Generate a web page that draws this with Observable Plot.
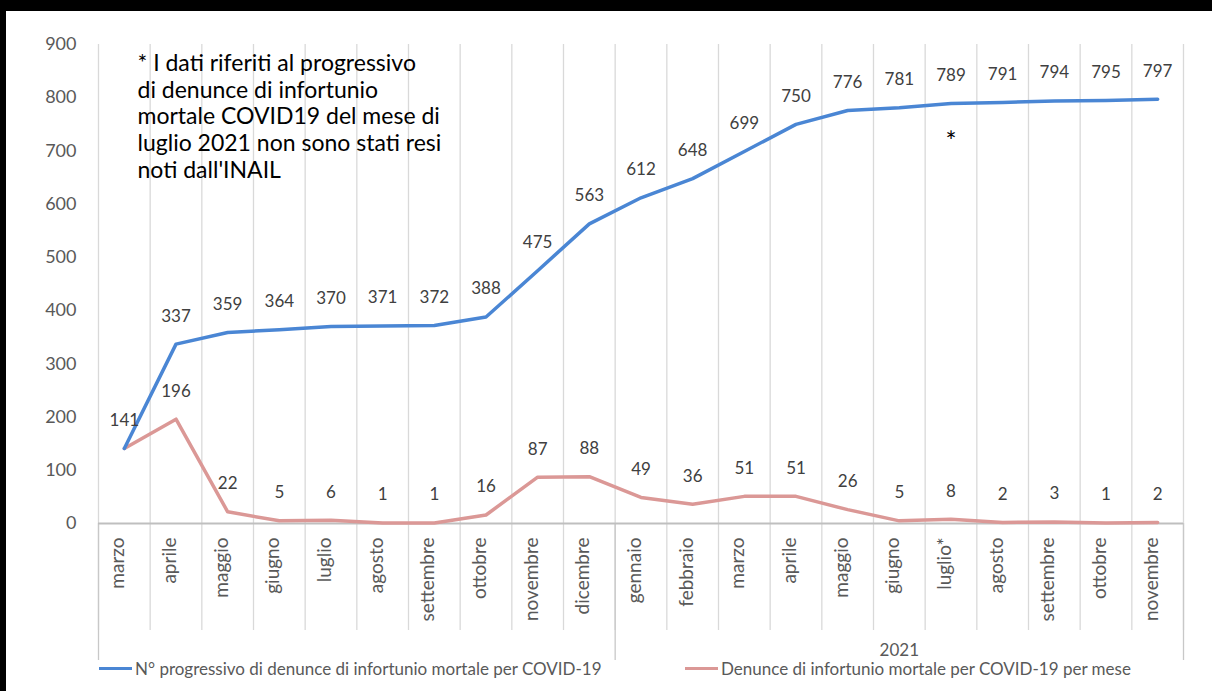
<!DOCTYPE html>
<html>
<head>
<meta charset="utf-8">
<script src="https://cdn.jsdelivr.net/npm/d3@7"></script>
<script src="https://cdn.jsdelivr.net/npm/@observablehq/plot@0.6"></script>
<style>
  html, body { margin: 0; padding: 0; background: white; overflow: hidden; }
  #frame {
    position: relative; width: 1212px; height: 691px; box-sizing: border-box;
    border-top: 11px solid #000; border-left: 6px solid #000;
    background: white; font-family: Lato, "Open Sans", sans-serif; overflow: hidden;
  }
  #chart { position: absolute; left: 1px; top: 0; }
  .leg { position: absolute; top: 647px; display: flex; align-items: center; font-size: 17px; color: #595959; white-space: nowrap; }
  .sw { width: 33px; height: 3px; margin-right: 3px; }
</style>
</head>
<body>
<div id="frame">
  <div id="chart"></div>
  <div class="leg" style="left:93px"><span class="sw" style="background:#4a86d4"></span><span id="l1"></span></div>
  <div class="leg" style="left:679px"><span class="sw" style="background:#db9896"></span><span id="l2"></span></div>
</div>
<script>
// ---- data ----
const months2020 = ["marzo","aprile","maggio","giugno","luglio","agosto","settembre","ottobre","novembre","dicembre"];
const months2021 = ["gennaio","febbraio","marzo","aprile","maggio","giugno","luglio*","agosto","settembre","ottobre","novembre"];
const yearLabels = ["", "2021"];
const cumulative = [141,337,359,364,370,371,372,388,475,563,612,648,699,750,776,781,789,791,794,795,797];
const monthly    = [141,196,22,5,6,1,1,16,87,88,49,36,51,51,26,5,8,2,3,1,2];
const yTicks = [0,100,200,300,400,500,600,700,800,900];
const seriesNames = ["N° progressivo di denunce di infortunio mortale per COVID-19", "Denunce di infortunio mortale per COVID-19 per mese"];
const note = "* I dati riferiti al progressivo\ndi denunce di infortunio\nmortale COVID19 del mese di\nluglio 2021 non sono stati resi\nnoti dall'INAIL";
const starMonth = "luglio*";

// ---- derived table ----
const months = months2020.concat(months2021);
const rows = months.map((m, i) => ({i, x: i + 0.5, month: m, cum: cumulative[i], mon: monthly[i]}));
const bounds = d3.range(0, months.length + 1);
const groups = [
  {label: yearLabels[0], start: 0, end: months2020.length},
  {label: yearLabels[1], start: months2020.length, end: months.length}
];
const groupBounds = [0, months2020.length, months.length];
const starRow = rows.find(r => r.month === starMonth);

const blue = "#4a86d4", pink = "#db9896";

const chart = Plot.plot({
  width: 1198, height: 650,
  marginLeft: 91, marginRight: 22, marginTop: 33, marginBottom: 138,
  x: {domain: [0, months.length], axis: null},
  y: {domain: [0, 900], axis: null},
  style: {fontFamily: "Lato, 'Open Sans', sans-serif", background: "white", overflow: "visible"},
  marks: [
    Plot.ruleX(bounds, {x: d => d, y1: 0, y2: 900, stroke: "#d9d9d9", strokeWidth: 1.3}),
    Plot.axisX(bounds, {anchor: "bottom", tickSize: 107, tickFormat: () => "", label: null, stroke: "#d9d9d9", strokeWidth: 1.3}),
    Plot.axisX(groupBounds, {anchor: "bottom", tickSize: 137, tickFormat: () => "", label: null, stroke: "#c8c8c8", strokeWidth: 1.3}),
    Plot.ruleY([0], {stroke: "#bfbfbf", strokeWidth: 2}),
    Plot.axisY(yTicks, {tickSize: 0, tickPadding: 22, fontSize: 18, fill: "#595959", label: null}),
    Plot.line(rows, {x: "x", y: "mon", stroke: pink, strokeWidth: 3.5}),
    Plot.line(rows, {x: "x", y: "cum", stroke: blue, strokeWidth: 3.5}),
    Plot.text(rows, {x: "x", y: "mon", text: d => String(d.mon), dy: -28, fontSize: 17, fill: "#404040"}),
    Plot.text(rows.filter(d => d.cum !== d.mon), {x: "x", y: "cum", text: d => String(d.cum), dy: -28, fontSize: 17, fill: "#404040"}),
    Plot.text(rows, {x: "x", text: "month", frameAnchor: "bottom", rotate: -90, textAnchor: "end", dy: 14, fontSize: 19, fill: "#595959"}),
    Plot.text(groups, {x: d => (d.start + d.end) / 2, text: "label", frameAnchor: "bottom", dy: 132, fontSize: 17, fill: "#595959"}),
    Plot.text([note], {text: d => d, frameAnchor: "top-left", textAnchor: "start", lineAnchor: "top", lineHeight: 1.17, dx: 39, dy: 7, fontSize: 23, fill: "#000"}),
    Plot.text([starRow], {x: "x", y: "cum", text: () => "*", dy: 39, fontSize: 26, fill: "#000"})
  ]
});
document.getElementById("chart").appendChild(chart);
document.getElementById("l1").textContent = seriesNames[0];
document.getElementById("l2").textContent = seriesNames[1];
</script>
</body>
</html>
